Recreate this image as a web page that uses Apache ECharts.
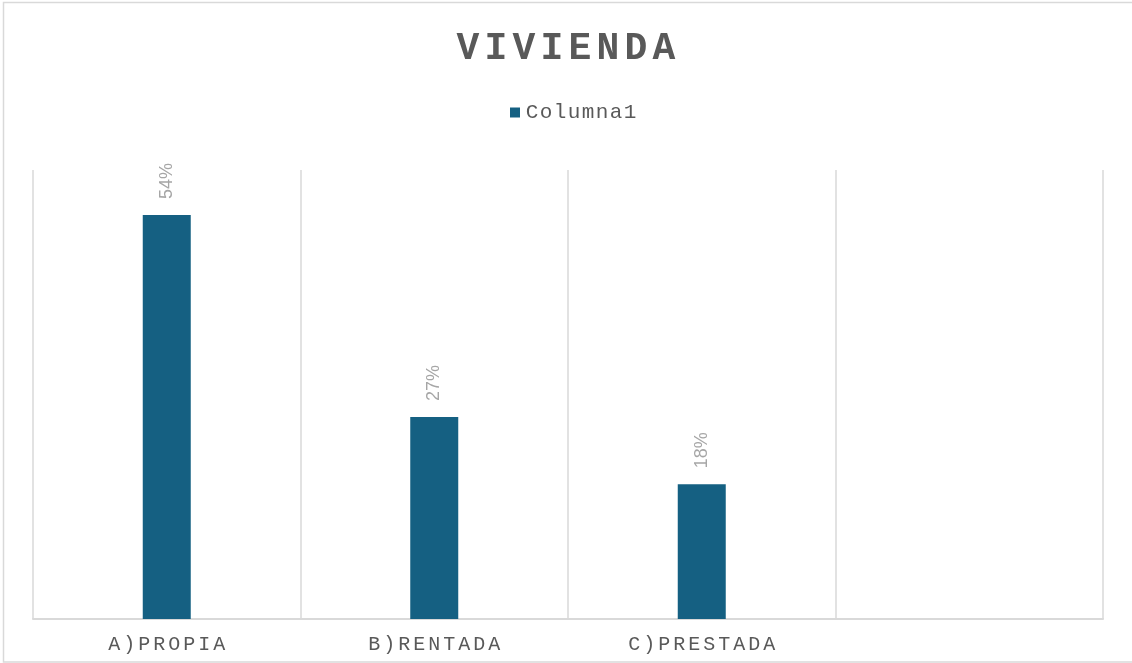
<!DOCTYPE html>
<html>
<head>
<meta charset="utf-8">
<script src="https://cdn.jsdelivr.net/npm/echarts@6/dist/echarts.min.js"></script>
<style>
	html, body { margin: 0; padding: 0; background: #fff; }
	#main { width: 1132px; height: 663px; }
</style>
</head>
<body>
<div id="main"></div>
<script>
// datos
var titulo = 'VIVIENDA';
var serieNombre = 'Columna1';
var categorias = ['A)PROPIA', 'B)RENTADA', 'C)PRESTADA', ''];
var valores = [54, 27, 18, null];

var barColor = '#156082';
var gris = '#595959';

// separa letras para simular el espaciado de Excel
function espaciar(txt, tag) {
	return txt.split('').map(function (c) {
		return '{' + tag + '|' + c + '}';
	}).join('');
}

var myChart = echarts.init(document.getElementById('main'));

var option = {
	backgroundColor: '#fff',
	title: {
		text: espaciar(titulo, 't'),
		left: 'center',
		top: 25,
		textStyle: {
			rich: {
				t: {
					width: 28,
					align: 'center',
					fontFamily: 'Liberation Mono',
					fontWeight: 'bold',
					fontSize: 38,
					color: gris
				}
			}
		}
	},
	legend: {
		data: [serieNombre],
		left: 505,
		top: 97,
		icon: 'rect',
		itemWidth: 10,
		itemHeight: 10,
		itemGap: 8,
		formatter: function (n) {
			return espaciar(n, 'l');
		},
		textStyle: {
			rich: {
				l: {
					width: 14,
					align: 'center',
					fontFamily: 'Liberation Mono',
					fontSize: 21,
					color: gris
				}
			}
		}
	},
	grid: {
		left: 33,
		right: 29,
		top: 170,
		bottom: 44,
		containLabel: false
	},
	xAxis: {
		type: 'category',
		data: categorias,
		axisTick: { show: false },
		axisLine: {
			lineStyle: { color: '#d9d9d9', width: 2 }
		},
		splitLine: {
			show: true,
			interval: 0,
			lineStyle: { color: '#d9d9d9', width: 1.5 }
		},
		axisLabel: {
			interval: 0,
			margin: 16,
			formatter: function (v) {
				return espaciar(v, 'c');
			},
			rich: {
				c: {
					width: 15,
					align: 'center',
					fontFamily: 'Liberation Mono',
					fontSize: 20,
					color: gris
				}
			}
		}
	},
	yAxis: {
		type: 'value',
		min: 0,
		max: 60,
		show: false,
		splitLine: { show: false }
	},
	series: [{
		name: serieNombre,
		type: 'bar',
		data: valores,
		barWidth: 48,
		itemStyle: { color: barColor },
		label: {
			show: true,
			position: 'top',
			rotate: 90,
			align: 'left',
			verticalAlign: 'middle',
			distance: 16,
			fontFamily: 'Liberation Sans',
			fontSize: 18,
			color: '#a6a6a6',
			formatter: function (p) {
				return p.value + '%';
			}
		}
	}],
	graphic: [{
		type: 'rect',
		silent: true,
		shape: { x: 3.5, y: 2.5, width: 1140, height: 659.5 },
		style: { fill: 'none', stroke: '#d9d9d9', lineWidth: 1.5 }
	}]
};

myChart.setOption(option);
</script>
</body>
</html>
